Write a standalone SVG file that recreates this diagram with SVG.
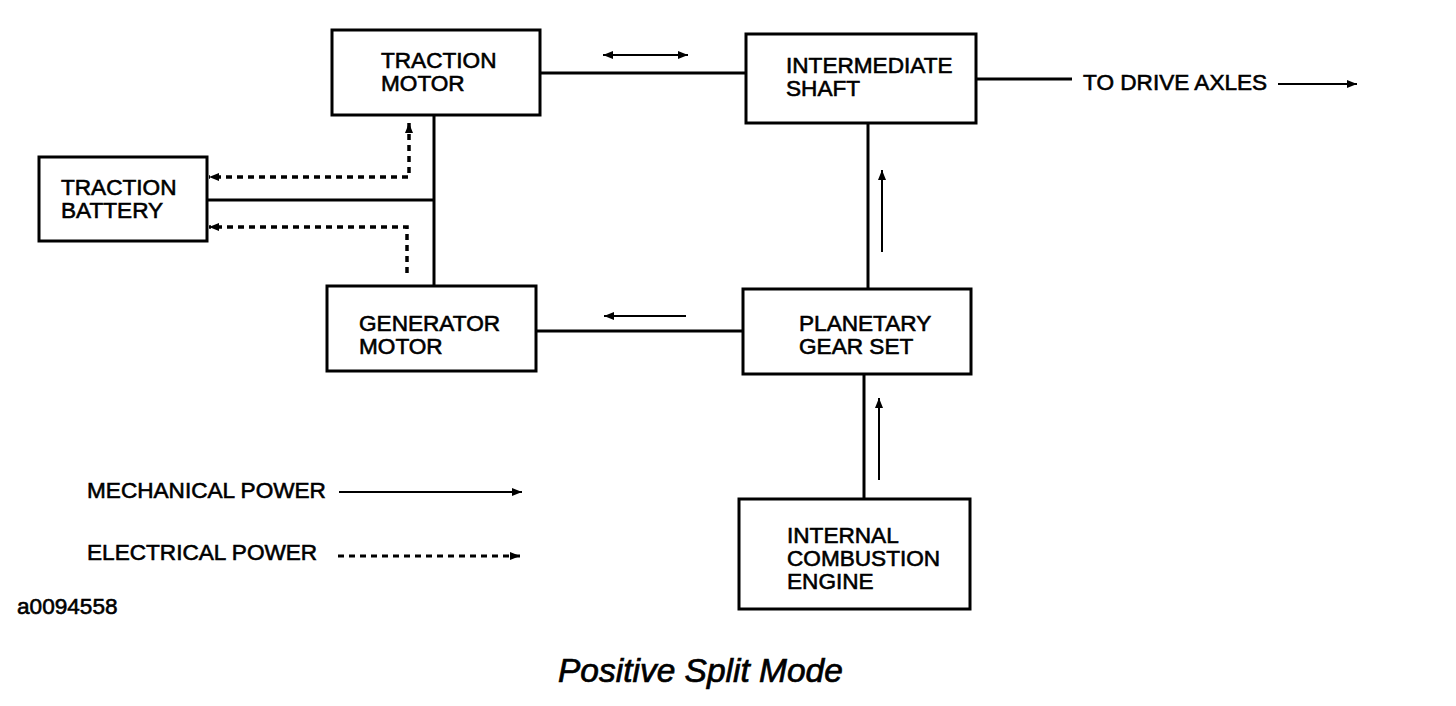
<svg xmlns="http://www.w3.org/2000/svg" width="1456" height="706" viewBox="0 0 1456 706">
<style>
.box{fill:#fff;stroke:#000;stroke-width:3}
.t{font-family:"Liberation Sans",Arial,sans-serif;font-size:22.6px;fill:#000;stroke:#000;stroke-width:0.6}
.ln{fill:none;stroke:#000;stroke-width:3}
.ar{fill:none;stroke:#000;stroke-width:2}
.dt{fill:none;stroke:#000;stroke-width:3.5;stroke-dasharray:6 5}
</style>
<defs>
<marker id="ah" viewBox="0 0 10 8" refX="10" refY="4" markerWidth="10" markerHeight="8" markerUnits="userSpaceOnUse" orient="auto-start-reverse">
<path d="M0,0 L10,4 L0,8 Z" fill="#000"/>
</marker>
</defs>
<rect width="1456" height="706" fill="#fff"/>
<g id="connectors">
<path class="ln" d="M540 73 H746"/>
<path class="ln" d="M976 79 H1072"/>
<path class="ln" d="M434 115 V285"/>
<path class="ln" d="M207 200 H434"/>
<path class="ln" d="M868 123 V289"/>
<path class="ln" d="M536 331 H743"/>
<path class="ln" d="M864 374 V499"/>
<path class="dt" d="M409 123 V177 H209" marker-start="url(#ah)" marker-end="url(#ah)"/>
<path class="dt" d="M407 273 V227 H209" marker-end="url(#ah)"/>
<path class="ar" d="M603 55 H688" marker-start="url(#ah)" marker-end="url(#ah)"/>
<path class="ar" d="M686 316 H604" marker-end="url(#ah)"/>
<path class="ar" d="M882 252 V170" marker-end="url(#ah)"/>
<path class="ar" d="M879 480 V398" marker-end="url(#ah)"/>
<path class="ar" d="M1278 84 H1357" marker-end="url(#ah)"/>
</g>
<g id="traction-motor">
<rect class="box" x="332" y="30" width="208" height="85"/>
<text class="t" x="381" y="68">TRACTION</text>
<text class="t" x="381" y="91">MOTOR</text>
</g>
<g id="intermediate-shaft">
<rect class="box" x="746" y="34" width="230" height="89"/>
<text class="t" x="786" y="73">INTERMEDIATE</text>
<text class="t" x="786" y="96">SHAFT</text>
</g>
<g id="traction-battery">
<rect class="box" x="39" y="157" width="168" height="84"/>
<text class="t" x="61" y="195">TRACTION</text>
<text class="t" x="61" y="218">BATTERY</text>
</g>
<g id="generator-motor">
<rect class="box" x="327" y="286" width="209" height="85"/>
<text class="t" x="359" y="331">GENERATOR</text>
<text class="t" x="359" y="354">MOTOR</text>
</g>
<g id="planetary-gear-set">
<rect class="box" x="743" y="289" width="228" height="85"/>
<text class="t" x="799" y="331">PLANETARY</text>
<text class="t" x="799" y="354">GEAR SET</text>
</g>
<g id="engine">
<rect class="box" x="739" y="499" width="231" height="110"/>
<text class="t" x="787" y="543">INTERNAL</text>
<text class="t" x="787" y="566">COMBUSTION</text>
<text class="t" x="787" y="589">ENGINE</text>
</g>
<g id="labels">
<text class="t" x="1083" y="90">TO DRIVE AXLES</text>
<text class="t" x="87" y="498">MECHANICAL POWER</text>
<path class="ar" d="M339 492 H522" marker-end="url(#ah)"/>
<text class="t" x="87" y="560">ELECTRICAL POWER</text>
<path class="dt" d="M338 556 H520" marker-end="url(#ah)" style="stroke-width:3"/>
<text class="t" x="17" y="614">a0094558</text>
<text class="t" x="558" y="682" style="font-size:33.5px;font-style:italic;stroke-width:0.7">Positive Split Mode</text>
</g>
</svg>
